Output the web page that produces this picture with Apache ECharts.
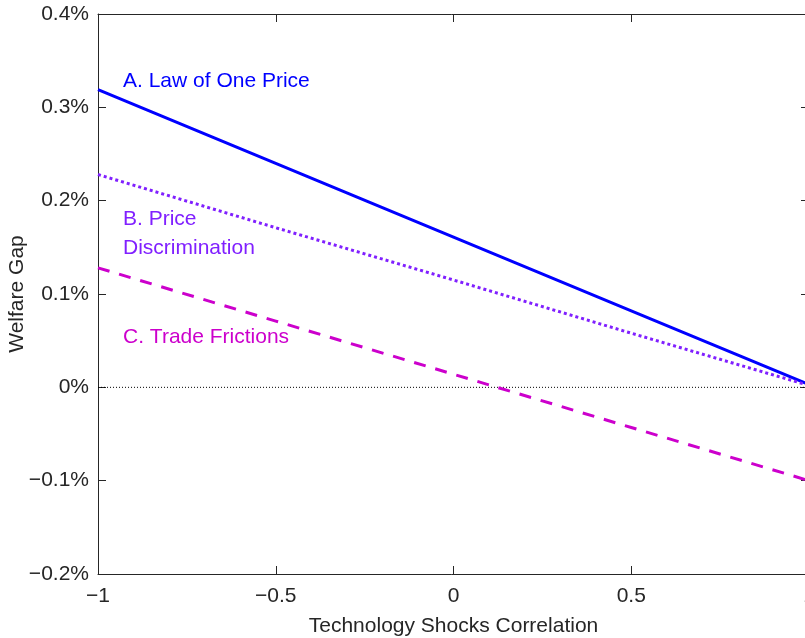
<!DOCTYPE html>
<html>
<head>
<meta charset="utf-8">
<script src="https://cdn.jsdelivr.net/npm/echarts@6/dist/echarts.min.js"></script>
<style>
  html, body { margin: 0; padding: 0; background: #fff; }
  #main { width: 805px; height: 638px; }
</style>
</head>
<body>
<div id="main"></div>
<script>
// correlation grid (x) and welfare gap in percent (y)
var corr = [-1, -0.5, 0, 0.5, 1];
var lawOfOnePrice = [0.319, 0.240, 0.161, 0.082, 0.003];
var priceDiscrimination = [0.228, 0.171, 0.115, 0.058, 0.002];
var tradeFrictions = [0.128, 0.071, 0.014, -0.043, -0.100];
var zeroLine = [0, 0];
var zeroX = [-1, 1];

var font = "'Liberation Sans', Arial, sans-serif";
var axisColor = '#262626';
var fs = 21;

function pairs(xs, ys) {
    var out = [];
    for (var i = 0; i < xs.length; i++) {
        out.push([xs[i], ys[i]]);
    }
    return out;
}

//负号用 unicode minus
function fmtX(v) {
    if (v == 0) return '0';
    return String(v).replace('-', '\u2212');
}
function fmtY(v) {
    var r = Math.round(v * 10) / 10;
    if (r == 0) return '0%';
    return r.toFixed(1).replace('-', '\u2212') + '%';
}

var axisLine = {show: true, onZero: false, lineStyle: {color: axisColor, width: 1}};
var axisTick = {show: true, inside: true, length: 8, lineStyle: {color: axisColor, width: 1}};
var labelStyle = {color: axisColor, fontSize: fs, fontFamily: font};

var chart = echarts.init(document.getElementById('main'));
var option = {
    animation: false,
    backgroundColor: '#fff',
    grid: {left: 98, right: -4, top: 14, bottom: 64, containLabel: false, outerBoundsMode: 'none'},
    xAxis: [
        {
            type: 'value', min: -1, max: 1, interval: 0.5, position: 'bottom',
            axisLine: axisLine, axisTick: axisTick, splitLine: {show: false},
            axisLabel: Object.assign({margin: 12, formatter: fmtX}, labelStyle),
            name: 'Technology Shocks Correlation', nameLocation: 'middle', nameGap: 42,
            nameMoveOverlap: false,
            nameTextStyle: {color: axisColor, fontSize: fs, fontFamily: font}
        },
        {
            type: 'value', min: -1, max: 1, interval: 0.5, position: 'top',
            axisLine: axisLine, axisTick: axisTick, splitLine: {show: false},
            axisLabel: {show: false}
        }
    ],
    yAxis: [
        {
            type: 'value', min: -0.2, max: 0.4, interval: 0.1, position: 'left',
            axisLine: axisLine, axisTick: axisTick, splitLine: {show: false},
            axisLabel: Object.assign({margin: 9, formatter: fmtY}, labelStyle),
            name: 'Welfare Gap', nameLocation: 'middle', nameGap: 70,
            nameMoveOverlap: false,
            nameTextStyle: {color: axisColor, fontSize: fs, fontFamily: font}
        },
        {
            type: 'value', min: -0.2, max: 0.4, interval: 0.1, position: 'right',
            axisLine: axisLine, axisTick: axisTick, splitLine: {show: false},
            axisLabel: {show: false}
        }
    ],
    series: [
        {
            name: 'zero', type: 'line', symbol: 'none', silent: true,
            data: pairs(zeroX, zeroLine),
            lineStyle: {color: '#000', width: 1, type: [1, 2]}
        },
        {
            name: 'A. Law of One Price', type: 'line', symbol: 'none',
            data: pairs(corr, lawOfOnePrice),
            lineStyle: {color: '#0000ff', width: 3}
        },
        {
            name: 'B. Price Discrimination', type: 'line', symbol: 'none',
            data: pairs(corr, priceDiscrimination),
            lineStyle: {color: '#8020ff', width: 3, type: [3, 3]}
        },
        {
            name: 'C. Trade Frictions', type: 'line', symbol: 'none',
            data: pairs(corr, tradeFrictions),
            lineStyle: {color: '#cc00cc', width: 3, type: [12, 10]}
        }
    ],
    graphic: [
        {type: 'text', left: 123, top: 71,
            style: {text: 'A. Law of One Price', fill: '#0000ff', fontSize: fs, fontFamily: font}},
        {type: 'text', left: 123, top: 205,
            style: {text: 'B. Price\nDiscrimination', fill: '#8020ff', fontSize: fs, lineHeight: 29, fontFamily: font}},
        {type: 'text', left: 123, top: 327,
            style: {text: 'C. Trade Frictions', fill: '#cc00cc', fontSize: fs, fontFamily: font}}
    ]
};
if (option && typeof option === "object") {
    chart.setOption(option, true);
}
</script>
</body>
</html>
